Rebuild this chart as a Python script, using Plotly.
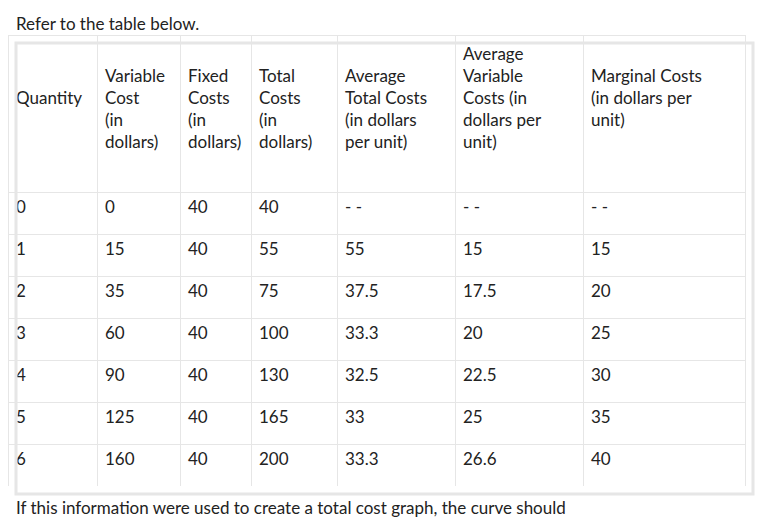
import plotly.graph_objects as go

headers = ["Quantity", "Variable<br>Cost<br>(in<br>dollars)", "Fixed<br>Costs<br>(in<br>dollars)",
           "Total<br>Costs<br>(in<br>dollars)", "Average<br>Total Costs<br>(in dollars<br>per unit)",
           "Average<br>Variable<br>Costs (in<br>dollars per<br>unit)", "Marginal Costs<br>(in dollars per<br>unit)"]
header_pad = ["&nbsp;<br>&nbsp;<br>", "&nbsp;<br>", "&nbsp;<br>", "&nbsp;<br>", "&nbsp;<br>", "", "&nbsp;<br>"]
quantity = ["0", "1", "2", "3", "4", "5", "6"]
variable_cost = ["0", "15", "35", "60", "90", "125", "160"]
fixed_costs = ["40", "40", "40", "40", "40", "40", "40"]
total_costs = ["40", "55", "75", "100", "130", "165", "200"]
avg_total = ["- -", "55", "37.5", "33.3", "32.5", "33", "33.3"]
avg_variable = ["- -", "15", "17.5", "20", "22.5", "25", "26.6"]
marginal = ["- -", "15", "20", "25", "30", "35", "40"]

W, H = 766, 525
widths = [89, 83, 71, 86, 118, 128, 162]
font = dict(family="Lato, Open Sans, sans-serif", size=17, color="#222")

fig = go.Figure(go.Table(
    domain=dict(x=[0/W, 737/W], y=[1-478/H, 1-27/H]),
    columnwidth=widths,
    header=dict(values=[p + h for p, h in zip(header_pad, headers)], align="left", height=157,
                fill_color="white", line_color="#e6e6e6", font=font),
    cells=dict(values=[quantity, variable_cost, fixed_costs, total_costs, avg_total, avg_variable, marginal],
               align="left", height=42, fill_color="white", line_color="#e6e6e6", font=font),
))
fig.add_shape(type="rect", xref="paper", yref="paper", x0=8/W, x1=745/W, y0=1-486/H, y1=1-35/H,
              line=dict(color="#e6e6e6", width=3))
fig.add_annotation(text="Refer to the table below.", xref="paper", yref="paper", x=6/W, y=1-16/H,
                   xanchor="left", yanchor="middle", showarrow=False, font=font)
fig.add_annotation(text="If this information were used to create a total cost graph, the curve should",
                   xref="paper", yref="paper", x=6/W, y=1-499/H, xanchor="left", yanchor="middle",
                   showarrow=False, font=font)
fig.update_layout(width=W, height=H, margin=dict(l=0, r=0, t=0, b=0),
                  paper_bgcolor="white", plot_bgcolor="white")
fig.write_html("out.html")
